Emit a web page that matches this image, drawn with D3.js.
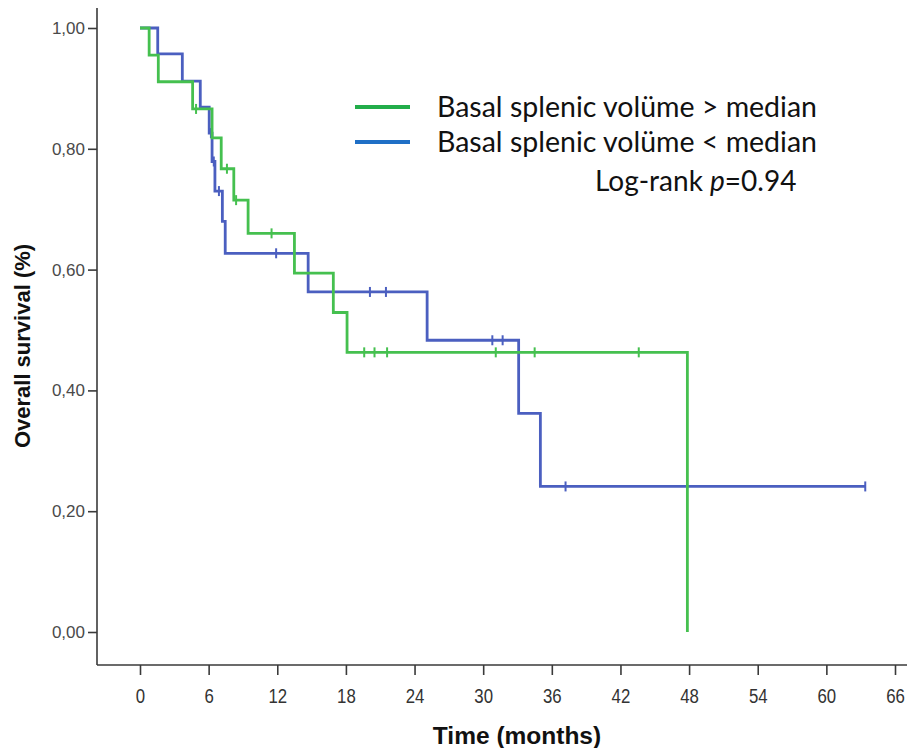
<!DOCTYPE html>
<html>
<head>
<meta charset="utf-8">
<script src="https://cdn.jsdelivr.net/npm/d3@7"></script>
<style>
  html, body { margin: 0; padding: 0; background: #fff; }
  svg { display: block; }
</style>
</head>
<body>
<div id="chart"></div>
<script>
// Kaplan–Meier step data (time in months, survival proportion)
const groupNames = ["Basal splenic volüme > median", "Basal splenic volüme < median"];

const greenTimes = [0, 0.8, 1.6, 4.6, 6.3, 7.1, 8.2, 9.45, 13.5, 16.9, 18.1, 47.85];
const greenSurv  = [1.0, 0.955, 0.911, 0.866, 0.818, 0.767, 0.715, 0.660, 0.594, 0.529, 0.463, 0.0];
const greenCensor = [4.9, 7.6, 8.4, 11.5, 19.6, 20.5, 21.6, 31.1, 34.5, 43.6];
const greenEnd = 47.85;

const blueTimes = [0, 1.55, 3.7, 5.27, 6.05, 6.3, 6.55, 7.2, 7.45, 14.7, 25.1, 33.1, 35.0];
const blueSurv  = [1.0, 0.957, 0.912, 0.869, 0.826, 0.779, 0.730, 0.680, 0.627, 0.563, 0.483, 0.362, 0.241];
const blueCensor = [6.2, 6.45, 6.9, 11.9, 20.1, 21.5, 30.8, 31.7, 37.2, 63.4];
const blueEnd = 63.4;

const xTicks = [0, 6, 12, 18, 24, 30, 36, 42, 48, 54, 60, 66];
const yTicks = [0, 0.2, 0.4, 0.6, 0.8, 1.0];

const W = 909, H = 748;
const svg = d3.select("#chart").append("svg").attr("width", W).attr("height", H);

const x = d3.scaleLinear().domain([0, 66]).range([140, 895]);
const y = d3.scaleLinear().domain([0, 1]).range([632, 28]);

const axisColor = "#3a3a3a";
const frame = { left: 97, bottom: 665, right: 907, top: 8 };

// axis frame lines
svg.append("line").attr("x1", frame.left).attr("x2", frame.left).attr("y1", frame.top).attr("y2", frame.bottom)
  .attr("stroke", axisColor).attr("stroke-width", 1.6);
svg.append("line").attr("x1", frame.left).attr("x2", frame.right).attr("y1", frame.bottom).attr("y2", frame.bottom)
  .attr("stroke", axisColor).attr("stroke-width", 1.6);

// y axis ticks
const yAxis = d3.axisLeft(y).tickValues(yTicks).tickSize(9).tickPadding(3)
  .tickFormat(d => d3.format(".2f")(d).replace(".", ","));
const gy = svg.append("g").attr("transform", `translate(${frame.left},0)`).call(yAxis);
gy.select(".domain").remove();
gy.selectAll(".tick line").attr("stroke", axisColor).attr("stroke-width", 1.6);
gy.selectAll(".tick text").attr("fill", "#4a4a4a")
  .style("font-family", "Liberation Sans, Arial, sans-serif").style("font-size", "17px");

// x axis ticks
const xAxis = d3.axisBottom(x).tickValues(xTicks).tickSize(10).tickFormat(d3.format("d"));
const gx = svg.append("g").attr("transform", `translate(0,${frame.bottom})`).call(xAxis);
gx.select(".domain").remove();
gx.selectAll(".tick line").attr("stroke", axisColor).attr("stroke-width", 1.6);
gx.selectAll(".tick text").remove();
gx.selectAll(".tick").append("text")
  .attr("transform", "translate(0,38) scale(0.8,1)")
  .attr("text-anchor", "middle")
  .attr("fill", "#333")
  .style("font-family", "Liberation Sans, Arial, sans-serif").style("font-size", "21px")
  .text(d => d3.format("d")(d));

// axis titles
svg.append("text")
  .attr("transform", "translate(517,744)")
  .attr("text-anchor", "middle")
  .attr("fill", "#111")
  .style("font-family", "Liberation Sans, Arial, sans-serif").style("font-weight", "bold").style("font-size", "24.5px")
  .text("Time (months)");
svg.append("text")
  .attr("transform", "translate(30,346) rotate(-90)")
  .attr("text-anchor", "middle")
  .attr("fill", "#111")
  .style("font-family", "Liberation Sans, Arial, sans-serif").style("font-weight", "bold").style("font-size", "22px")
  .text("Overall survival (%)");

// survival curves
const stepLine = d3.line().x(d => x(d[0])).y(d => y(d[1])).curve(d3.curveStepAfter);

function survivalAt(times, surv, t) {
  let s = surv[0];
  for (let i = 0; i < times.length; i++) if (times[i] <= t) s = surv[i];
  return s;
}

function drawCurve(times, surv, endT, censor, color) {
  const pts = times.map((t, i) => [t, surv[i]]);
  if (endT > times[times.length - 1]) pts.push([endT, surv[surv.length - 1]]);
  const g = svg.append("g");
  g.append("path").attr("d", stepLine(pts))
    .attr("fill", "none").attr("stroke", color).attr("stroke-width", 2.8)
    .attr("stroke-linejoin", "miter").attr("stroke-linecap", "butt");
  g.selectAll("line.censor").data(censor).join("line")
    .attr("class", "censor")
    .attr("x1", d => x(d)).attr("x2", d => x(d))
    .attr("y1", d => y(survivalAt(times, surv, d)) - 5)
    .attr("y2", d => y(survivalAt(times, surv, d)) + 5)
    .attr("stroke", color).attr("stroke-width", 2);
}

const blueColor = "#4b5fc0";
const greenColor = "#45c04f";
drawCurve(blueTimes, blueSurv, blueEnd, blueCensor, blueColor);
drawCurve(greenTimes, greenSurv, greenEnd, greenCensor, greenColor);

// legend
const legendColors = ["#22ad4a", "#1f6fc6"];
const legendY = [107, 142];
const legend = svg.append("g");
groupNames.forEach((name, i) => {
  legend.append("line").attr("x1", 355).attr("x2", 410).attr("y1", legendY[i]).attr("y2", legendY[i])
    .attr("stroke", legendColors[i]).attr("stroke-width", 4);
  legend.append("text").attr("x", 437).attr("y", legendY[i] + 10)
    .attr("fill", "#111")
    .style("font-family", "Lato, 'Open Sans', sans-serif").style("font-size", "28.5px")
    .text(name);
});
const lr = legend.append("text").attr("x", 595).attr("y", 191)
  .attr("fill", "#111")
  .style("font-family", "Lato, 'Open Sans', sans-serif").style("font-size", "28px");
lr.append("tspan").text("Log-rank ");
lr.append("tspan").style("font-style", "italic").text("p");
lr.append("tspan").text("=0.94");
</script>
</body>
</html>
